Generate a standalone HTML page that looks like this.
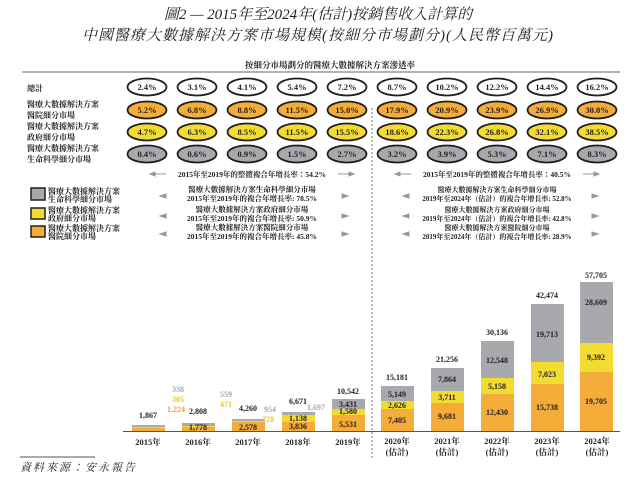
<!DOCTYPE html>
<html><head><meta charset="utf-8"><style>
html,body{margin:0;padding:0;background:#fff}
svg{display:block}
text{font-family:"Liberation Serif","Noto Serif CJK TC","Noto Serif CJK SC",serif;fill:#231f20}
.b{font-weight:bold}
</style></head><body>
<svg width="635" height="479" viewBox="0 0 635 479" xmlns="http://www.w3.org/2000/svg">
<text x="318" y="19" text-anchor="middle" font-size="15" font-style="italic">圖2 — 2015年至2024年(估計)按銷售收入計算的</text>
<text x="318" y="40" text-anchor="middle" font-size="15" font-style="italic" letter-spacing="1">中國醫療大數據解決方案市場規模(按細分市場劃分)(人民幣百萬元)</text>

<text x="330" y="68" text-anchor="middle" font-size="8.5" class="b">按細分市場劃分的醫療大數據解決方案滲透率</text>
<line x1="22" y1="72" x2="620" y2="72" stroke="#999" stroke-width="1.5"/>

<g font-size="8" class="b">
<text x="27" y="91">總計</text>
<text x="27" y="107">醫療大數據解決方案</text><text x="27" y="118">醫院細分市場</text>
<text x="27" y="129">醫療大數據解決方案</text><text x="27" y="140">政府細分市場</text>
<text x="27" y="151">醫療大數據解決方案</text><text x="27" y="162">生命科學細分市場</text>
</g>

<g stroke="#231f20" stroke-width="1.8" font-size="8.5" class="b">
<g id="ovals"></g>
</g>
<line x1="372" y1="108" x2="372" y2="458" stroke="#555" stroke-width="0.8" stroke-dasharray="2,2"/>

<g font-size="7.5" class="b" text-anchor="middle">
<text x="252" y="177">2015年至2019年的整體複合年增長率：54.2%</text>
<text x="497" y="177">2015年至2019年的整體複合年增長率：40.5%</text>
<text x="252" y="192">醫療大數據解決方案生命科學細分市場</text><text x="252" y="201">2015年至2019年的複合年增長率: 78.5%</text>
<text x="252" y="212">醫療大數據解決方案政府細分市場</text><text x="252" y="221">2015年至2019年的複合年增長率: 50.9%</text>
<text x="252" y="230">醫療大數據解決方案醫院細分市場</text><text x="252" y="239">2015年至2019年的複合年增長率: 45.8%</text>
</g>
<g font-size="7" class="b" text-anchor="middle">
<text x="497" y="192">醫療大數據解決方案生命科學細分市場</text><text x="497" y="201">2019年至2024年（估計）的複合年增長率: 52.8%</text>
<text x="497" y="212">醫療大數據解決方案政府細分市場</text><text x="497" y="221">2019年至2024年（估計）的複合年增長率: 42.8%</text>
<text x="497" y="230">醫療大數據解決方案醫院細分市場</text><text x="497" y="239">2019年至2024年（估計）的複合年增長率: 28.9%</text>
</g>
<g stroke="#999" stroke-width="1" fill="#999">
<line x1="152" y1="174" x2="166" y2="174"/><polygon points="150,174 155,172 155,176"/>
<line x1="338" y1="174" x2="352" y2="174"/><polygon points="354,174 349,172 349,176"/>
<line x1="397" y1="174" x2="411" y2="174"/><polygon points="395,174 400,172 400,176"/>
<line x1="583" y1="174" x2="597" y2="174"/><polygon points="599,174 594,172 594,176"/>
<polygon points="160,196 166,194 166,198"/><polygon points="160,216 166,214 166,218"/><polygon points="160,234 166,232 166,236"/>
<polygon points="348,196 342,194 342,198"/><polygon points="348,216 342,214 342,218"/><polygon points="348,234 342,232 342,236"/>
<polygon points="403,196 409,194 409,198"/><polygon points="403,216 409,214 409,218"/><polygon points="403,234 409,232 409,236"/>
<polygon points="598,196 592,194 592,198"/><polygon points="598,216 592,214 592,218"/><polygon points="598,234 592,232 592,236"/>
</g>

<g stroke="#231f20" stroke-width="1.5">
<rect x="31" y="188" width="14" height="12" fill="#a7a9ac"/>
<rect x="31" y="208" width="14" height="11" fill="#f2dc32"/>
<rect x="31" y="226" width="14" height="11" fill="#f3ad38"/>
</g>
<g font-size="8" class="b">
<text x="48" y="194">醫療大數據解決方案</text><text x="48" y="202">生命科學細分市場</text>
<text x="48" y="213">醫療大數據解決方案</text><text x="48" y="221">政府細分市場</text>
<text x="48" y="231">醫療大數據解決方案</text><text x="48" y="239">醫院細分市場</text>
</g>

<g id="bars"></g>
<line x1="123" y1="431.5" x2="620" y2="431.5" stroke="#555" stroke-width="1"/>

<line x1="20" y1="457" x2="95" y2="457" stroke="#555" stroke-width="1"/>
<text x="20" y="471" font-size="11" font-style="italic" letter-spacing="2">資料來源：安永報告</text>

<script>
var ns="http://www.w3.org/2000/svg";
function el(p,t,a,txt){var e=document.createElementNS(ns,t);for(var k in a)e.setAttribute(k,a[k]);if(txt!=null)e.textContent=txt;p.appendChild(e);return e;}
var ov=document.getElementById('ovals');
var rows=[["2.4%","3.1%","4.1%","5.4%","7.2%","8.7%","10.2%","12.2%","14.4%","16.2%"],
["5.2%","6.8%","8.8%","11.5%","15.0%","17.9%","20.9%","23.9%","26.9%","30.0%"],
["4.7%","6.3%","8.5%","11.5%","15.5%","18.6%","22.3%","26.8%","32.1%","38.5%"],
["0.4%","0.6%","0.9%","1.5%","2.7%","3.2%","3.9%","5.3%","7.1%","8.3%"]];
var fills=["#fff","#f3ad38","#f2dc32","#a7a9ac"],ys=[87,110,132,154];
for(var r=0;r<4;r++)for(var c=0;c<10;c++){var cx=147+50*c;
el(ov,'ellipse',{cx:cx,cy:ys[r],rx:19.5,ry:8.5,fill:fills[r]});
el(ov,'text',{x:cx,y:ys[r]+3,'text-anchor':'middle',stroke:'none'},rows[r][c]);}
var g=document.getElementById('bars');var B=431;
var bars=[[132,425,427,428],[182,423,426,427],[232,419,421,422],[282,412,415,422],[332,399,409,415],
[381,386,401,409],[431,368,391,403],[481,341,378,394],[531,304,362,384],[580,282,343,372]];
bars.forEach(function(b){
el(g,'rect',{x:b[0],y:b[1],width:33,height:b[2]-b[1],fill:'#a7a9ac'});
el(g,'rect',{x:b[0],y:b[2],width:33,height:b[3]-b[2],fill:'#f2dc32'});
el(g,'rect',{x:b[0],y:b[3],width:33,height:B-b[3],fill:'#f3ad38'});
});
function t(x,y,s,col,sz){el(g,'text',{x:x,y:y,'text-anchor':'middle','font-size':sz||8,'font-weight':'bold',style:'fill:'+(col||'#231f20')},s);}
var tot=[["1,867",148,418],["2,808",198,414],["4,260",248,411],["6,671",298,404],["10,542",348,394],["15,181",397,380],["21,256",447,362],["30,136",497,335],["42,474",547,298],["57,705",596,278]];
tot.forEach(function(a){t(a[1],a[2],a[0]);});
t(178,392,"338","#a7a9ac");t(178,402,"305","#e8c820");t(176,412,"1,224","#e8a530");
t(198,430,"1,778");
t(226,397,"559","#a7a9ac");t(226,407,"471","#e8c820");
t(248,430,"2,578");t(270,412,"954","#a7a9ac");t(268,422,"728","#e8c820");
t(298,421,"1,138");t(298,429,"3,836");t(316,410,"1,697","#a7a9ac");
t(348,407,"3,431");t(348,414,"1,580");t(348,427,"5,531");
t(397,397,"5,149");t(397,408,"2,626");t(397,423,"7,405");
t(447,382,"7,864");t(447,400,"3,711");t(447,419,"9,681");
t(497,363,"12,548");t(497,389,"5,158");t(497,415,"12,430");
t(547,337,"19,713");t(547,377,"7,023");t(547,410,"15,738");
t(596,305,"28,609");t(596,360,"9,392");t(596,404,"19,705");
["2015年","2016年","2017年","2018年","2019年"].forEach(function(y,i){t(148+50*i,445,y,'#231f20',8.5);});
["2020年","2021年","2022年","2023年","2024年"].forEach(function(y,i){t(397+50*i,444,y,'#231f20',8.5);t(397+50*i,455,"(估計)",'#231f20',8.5);});
</script>
</svg>
</body></html>
